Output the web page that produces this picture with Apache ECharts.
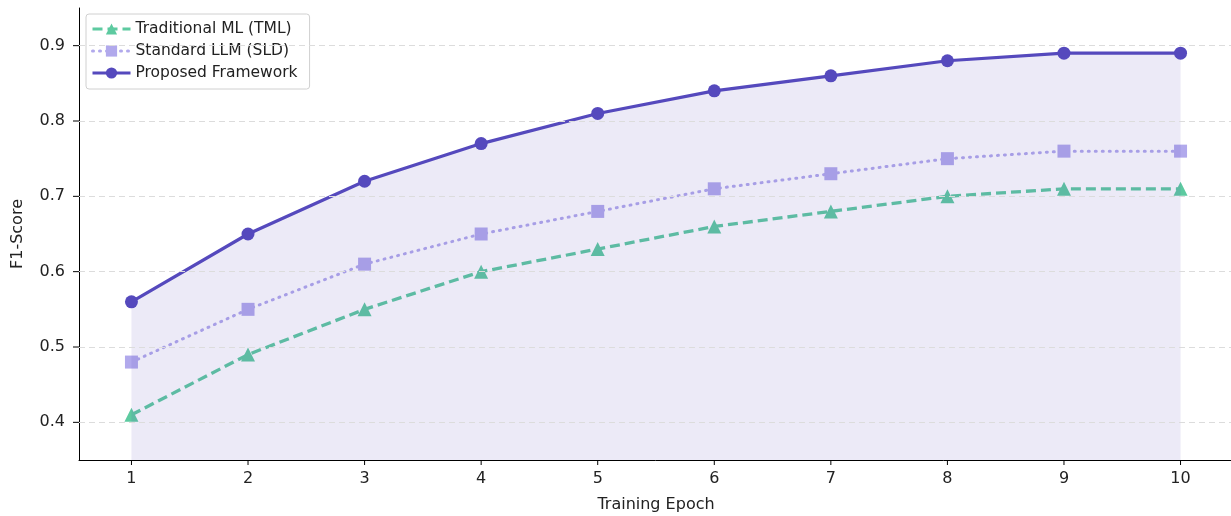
<!DOCTYPE html>
<html><head><meta charset="utf-8">
<script src="https://cdn.jsdelivr.net/npm/echarts@6/dist/echarts.min.js"></script>
<style>html,body{margin:0;padding:0;background:#fff}#c{width:1231px;height:516px}</style>
</head><body><div id="c"></div>
<script>
const epochs = [1,2,3,4,5,6,7,8,9,10];
const tml = [0.41,0.49,0.55,0.60,0.63,0.66,0.68,0.70,0.71,0.71];
const sld = [0.48,0.55,0.61,0.65,0.68,0.71,0.73,0.75,0.76,0.76];
const proposed = [0.56,0.65,0.72,0.77,0.81,0.84,0.86,0.88,0.89,0.89];
const yTicks = [0.4,0.5,0.6,0.7,0.8,0.9];
const names = ['Traditional ML (TML)','Standard LLM (SLD)','Proposed Framework'];

const font = 'DejaVu Sans';
const pair = a => epochs.map((e,i)=>[e,a[i]]);
const chart = echarts.init(document.getElementById('c'));
chart.setOption({
  animation:false,
  textStyle:{fontFamily:font},
  grid:{left:79,right:-2,top:8,bottom:56,outerBoundsMode:'none',containLabel:false},
  legend:{
    orient:'vertical', left:86, top:14, itemWidth:38, itemHeight:14, itemGap:6,
    padding:[7,12,8,5],
    borderColor:'#d0d0d0', borderWidth:1, borderRadius:3,
    textStyle:{fontFamily:font,fontSize:15.5,color:'#222'},
    lineStyle:{width:3},
    data:names
  },
  xAxis:{
    type:'value', min:0.55, max:10.45, interval:1,
    name:'Training Epoch', nameLocation:'middle', nameGap:37,
    nameTextStyle:{fontFamily:font,fontSize:16,color:'#222'},
    axisLine:{lineStyle:{color:'#000',width:1}},
    axisTick:{show:false},
    axisLabel:{show:false},
    splitLine:{show:false}
  },
  yAxis:{
    type:'value', min:0.35, max:0.95,
    name:'F1-Score', nameLocation:'middle', nameGap:53,
    nameTextStyle:{fontFamily:font,fontSize:16,color:'#222'},
    axisLine:{show:true,lineStyle:{color:'#000',width:1}},
    axisTick:{show:false},
    axisLabel:{show:false},
    splitLine:{show:false}
  },
  series:[
    {type:'line', name:'_grid', silent:true, data:[], 
     markLine:{silent:true, symbol:'none', label:{show:false},
       lineStyle:{color:'#dcdcdc',type:[6,4],width:1},
       data:yTicks.map(v=>({yAxis:v}))}},
    {type:'line', name:names[2], data:pair(proposed), smooth:false,
     symbol:'circle', symbolSize:13, z:4,
     lineStyle:{color:'#5549bd',width:3.2}, itemStyle:{color:'#5549bd'},
     areaStyle:{color:'rgba(90,80,190,0.17)', origin:'start'}},
    {type:'line', name:names[1], data:pair(sld), smooth:false,
     symbol:'rect', symbolSize:13, z:3,
     lineStyle:{color:'#b1a9ec',width:3,type:[1,6],cap:'round'}, itemStyle:{color:'#b1a9ec'}},
    {type:'line', name:names[0], data:pair(tml), smooth:false,
     symbol:'triangle', symbolSize:14, z:3,
     lineStyle:{color:'#5dcaa0',width:3.3,type:[10,5]}, itemStyle:{color:'#5dcaa0'}}
  ]
});
const g = [];
epochs.forEach(e=>{
  const p = chart.convertToPixel({gridIndex:0},[e,0.35]);
  g.push({type:'line',shape:{x1:p[0],y1:p[1],x2:p[0],y2:p[1]+5},style:{stroke:'#000',lineWidth:1}});
  g.push({type:'text',x:p[0],y:p[1]+11,style:{text:String(e),fontFamily:font,fontSize:16,fill:'#222',align:'center',verticalAlign:'top'}});
});
yTicks.forEach(v=>{
  const p = chart.convertToPixel({gridIndex:0},[0.55,v]);
  g.push({type:'line',shape:{x1:p[0]-6,y1:p[1],x2:p[0],y2:p[1]},style:{stroke:'#000',lineWidth:1}});
  g.push({type:'text',x:p[0]-14,y:p[1],style:{text:v.toFixed(1),fontFamily:font,fontSize:16,fill:'#222',align:'right',verticalAlign:'middle'}});
});
chart.setOption({graphic:g});
</script></body></html>
